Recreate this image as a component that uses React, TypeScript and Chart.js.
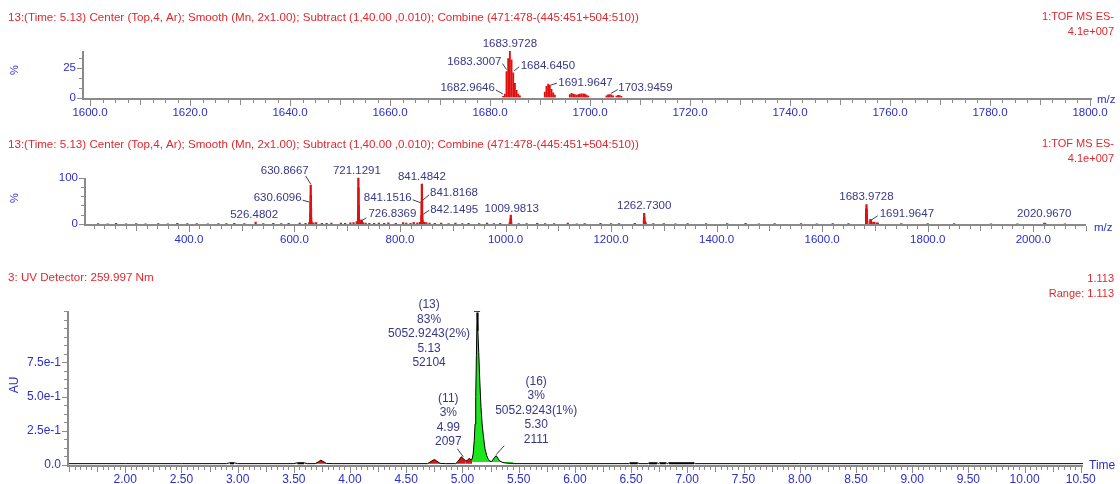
import React, { useEffect, useRef } from "react";
import { Chart, registerables } from "chart.js";

Chart.register(...registerables);

const FONT = '"Liberation Sans", Arial, Helvetica, sans-serif';
const RED_TEXT = "#e0282d";
const TICK_BLUE = "#2a2fc8";
const LABEL_BLUE = "#38388a";
const AXIS_GRAY = "#8a8a8a";
const BAR_RED = "#e01010";

// ---------- texts ----------
const msHeader =
  "13:(Time: 5.13) Center (Top,4, Ar); Smooth (Mn, 2x1.00); Subtract (1,40.00 ,0.010); Combine (471:478-(445:451+504:510))";
const msRight = ["1:TOF MS ES-", "4.1e+007"];
const uvHeader = "3: UV Detector: 259.997 Nm";
const uvRight = ["1.113", "Range: 1.113"];

// ---------- panel 1: zoomed spectrum ----------
const zoomMz = [
  1682.629, 1682.9646, 1683.3007, 1683.6368, 1683.9728, 1684.3089, 1684.645, 1684.981, 1685.317, 1685.653, 1685.99,
  1690.96, 1691.2925, 1691.6286, 1691.9647, 1692.3008, 1692.637, 1692.973,
  1695.97, 1696.3, 1696.64, 1696.97, 1697.31, 1697.65, 1697.98, 1698.32, 1698.66, 1698.99, 1699.33, 1699.66,
  1703.28, 1703.61, 1703.9459, 1704.28, 1704.62, 1705.29, 1705.62, 1705.95, 1706.29,
];
const zoomIntensity = [
  1.0, 3.0, 22, 33, 39.5, 32, 21, 12, 6, 3, 1.5,
  4.5, 9.5, 11.5, 10.5, 7.0, 4.0, 2.0,
  2.5, 3.5, 3.0, 2.5, 2.0, 2.5, 3.0, 3.2, 3.2, 2.8, 2.0, 1.2,
  1.5, 2.2, 2.5, 2.2, 1.5, 1.2, 1.8, 1.6, 1.0,
];
const zoomXTicks = [1600, 1620, 1640, 1660, 1680, 1700, 1720, 1740, 1760, 1780, 1800];
const zoomYTicks = [0, 25];
const zoomYText = ["0", "25"];
const zoomLabelMz = [1683.9728, 1683.3007, 1684.645, 1682.9646, 1691.9647, 1703.9459];

// ---------- panel 2: full spectrum ----------
const fullMz = [
  228, 246, 262, 281, 300, 318, 342, 360, 378, 397,
  415, 436, 456, 471, 486, 505, 526.4802, 541, 560, 575,
  589, 610, 621, 628.1, 629.8, 630.3525, 630.6096, 630.8667, 631.1238, 631.3809,
  631.638, 632.2, 636, 641, 652, 661, 670, 688, 696, 706,
  712, 718, 720.7943, 721.1291, 721.4639, 721.7987, 722.1335, 724, 726.502, 726.8369,
  727.1718, 728, 730, 735, 742, 751, 760, 770, 778, 792,
  806, 812, 820, 826, 833, 838, 840.819, 841.1516, 841.4842, 841.8168,
  842.1495, 842.482, 843.5, 846, 850, 856, 866, 878, 892, 905,
  918, 930, 950, 965, 978, 990, 1008, 1009.6481, 1009.9813, 1010.3145,
  1010.6477, 1025, 1040, 1060, 1075, 1092, 1118, 1135, 1150, 1180,
  1200, 1215, 1245, 1262.23, 1262.73, 1263.23, 1263.73, 1265.5, 1280, 1300,
  1322, 1345, 1380, 1420, 1455, 1480, 1510, 1560, 1590, 1620,
  1650, 1683.3007, 1683.6368, 1683.9728, 1684.3089, 1684.645, 1684.981, 1685.5, 1691.6286, 1691.9647,
  1692.3, 1693, 1697, 1699, 1704, 1705.5, 1750, 1800, 1850, 1920,
  1970, 2020.967, 2022.5, 2060,
];
const fullIntensity = [
  0.8, 0.6, 1.2, 0.6, 0.9, 0.5, 1.0, 0.6, 1.3, 0.7,
  1.0, 0.6, 1.1, 0.7, 1.2, 0.8, 4.0, 0.9, 1.6, 0.8,
  1.2, 1.8, 1.4, 3.0, 7.0, 22, 45, 84, 62, 35,
  14, 5, 2.5, 3.0, 1.6, 1.2, 2.2, 2.0, 1.6, 2.4,
  3.0, 5.0, 28, 100, 78, 40, 14, 4.0, 7.0, 9.0,
  6.5, 4.0, 3.0, 2.0, 1.5, 1.2, 2.0, 1.4, 2.4, 1.6,
  3.2, 2.2, 1.6, 3.4, 2.4, 3.5, 18, 48, 86, 52,
  21, 9, 4.5, 3.8, 3.0, 2.0, 1.5, 2.2, 1.0, 1.8,
  0.8, 1.5, 1.0, 2.0, 0.8, 1.2, 3.0, 12, 19, 10,
  4.0, 1.0, 0.8, 1.5, 0.7, 1.0, 1.8, 0.6, 1.0, 1.4,
  0.7, 1.0, 1.2, 9.0, 23, 14, 6.0, 3.0, 0.8, 1.0,
  0.6, 1.0, 0.8, 1.0, 1.4, 0.6, 1.0, 0.8, 0.6, 1.0,
  0.7, 24, 33, 42, 32, 21, 11, 5.0, 10, 9.0,
  6.0, 3.0, 4.0, 3.5, 2.4, 1.8, 0.8, 0.7, 0.8, 0.6,
  0.6, 2.0, 1.4, 0.6,
];
const fullXTicks = [400, 600, 800, 1000, 1200, 1400, 1600, 1800, 2000];
const fullYTicks = [0, 100];
const fullYText = ["0", "100"];
const fullLabelMz = [
  630.8667, 630.6096, 526.4802, 721.1291, 726.8369, 841.4842, 841.1516, 841.8168, 842.1495, 1009.9813,
  1262.73, 1683.9728, 1691.9647, 2020.967,
];

// ---------- panel 3: UV chromatogram ----------
const uvTime = [
  1.5, 2.0, 2.5, 2.9, 2.93, 2.97, 3.0, 3.5, 3.53, 3.59,
  3.62, 3.69, 3.72, 3.74, 3.76, 3.79, 3.85, 4.5, 4.69, 4.72,
  4.75, 4.77, 4.8, 4.85, 4.94, 4.96, 4.99, 5.01, 5.03, 5.045,
  5.06, 5.075, 5.085, 5.095, 5.105, 5.112, 5.118, 5.124, 5.13, 5.137,
  5.145, 5.155, 5.165, 5.175, 5.185, 5.2, 5.215, 5.23, 5.245, 5.26,
  5.28, 5.3, 5.315, 5.33, 5.36, 5.4, 5.45, 6.0, 6.48, 6.49,
  6.56, 6.57, 6.65, 6.66, 6.73, 6.745, 6.755, 6.81, 6.825, 6.835,
  7.06, 7.07, 8.0, 10.52,
];
const uvAbs = [
  0.01, 0.01, 0.01, 0.01, 0.016, 0.016, 0.01, 0.01, 0.016, 0.016,
  0.01, 0.01, 0.024, 0.035, 0.026, 0.011, 0.01, 0.01, 0.01, 0.026,
  0.04, 0.03, 0.012, 0.01, 0.01, 0.026, 0.06, 0.045, 0.028, 0.036,
  0.048, 0.04, 0.04, 0.08, 0.18, 0.3, 0.5, 0.8, 1.113, 0.98,
  0.82, 0.6, 0.42, 0.3, 0.22, 0.12, 0.07, 0.04, 0.028, 0.025,
  0.05, 0.068, 0.05, 0.03, 0.018, 0.013, 0.01, 0.01, 0.01, 0.016,
  0.016, 0.01, 0.01, 0.016, 0.016, 0.01, 0.016, 0.016, 0.01, 0.016,
  0.016, 0.01, 0.01, 0.01,
];
const uvXTicks = [2.0, 2.5, 3.0, 3.5, 4.0, 4.5, 5.0, 5.5, 6.0, 6.5, 7.0, 7.5, 8.0, 8.5, 9.0, 9.5, 10.0, 10.5];
const uvYTicks = [0, 0.25, 0.5, 0.75];
const uvYText = ["0.0", "2.5e-1", "5.0e-1", "7.5e-1"];
const uvRedStart = [3.69, 4.69, 4.94, 5.03];
const uvRedEnd = [3.79, 4.8, 5.03, 5.085];
const uvGreenStart = [5.085, 5.245];
const uvGreenEnd = [5.245, 5.45];
const uvBlackStart = [2.93, 3.53, 6.49, 6.66, 6.755, 6.835];
const uvBlackEnd = [2.97, 3.59, 6.56, 6.73, 6.81, 7.06];
const uvPeakNames = ["(13)", "(11)", "(16)"];
const uvPeakTimes = [5.13, 4.99, 5.3];
const uvPeakPercent = ["83%", "3%", "3%"];
const uvPeakMass = ["5052.9243(2%)", "", "5052.9243(1%)"];
const uvPeakArea = ["52104", "2097", "2111"];

// ---------- label layout (styles / offsets only) ----------
type Lay = { dx: number; dy: number; align: CanvasTextAlign; line?: number[]; mark?: number[]; anchorLast?: boolean };
const zoomLabelLayout: Lay[] = [
  { dx: 0, dy: -7.5, align: "center" },
  { dx: -5, dy: -10, align: "right", line: [-4, -8, 0, -2] },
  { dx: 7.5, dy: -6.5, align: "left", line: [1, -2, 6, -6] },
  { dx: -10, dy: -6, align: "right", line: [-9, -4, -2, 0] },
  { dx: 8.5, dy: -2, align: "left", line: [1, 0, 7, -2] },
  { dx: 8.5, dy: -6.5, align: "left", line: [1, -1, 8, -5] },
];
const fullLabelLayout: Lay[] = [
  { dx: -2, dy: -14, align: "right", line: [-5, -9, 0, -1] },
  { dx: -9, dy: -5.5, align: "right", line: [-8, -3, -1, -1] },
  { dx: -1.5, dy: -7, align: "center" },
  { dx: -1.5, dy: -7, align: "center" },
  { dx: 7, dy: -6.5, align: "left", line: [0, 1, 5, -2] },
  { dx: 0, dy: -7.5, align: "center" },
  { dx: -10, dy: -4, align: "right", line: [-9, -2, -1, 1] },
  { dx: 8, dy: -6.6, align: "left", line: [1, 0, 7, -5] },
  { dx: 8, dy: -4.3, align: "left", line: [1, 0, 7, -4] },
  { dx: 1, dy: -6, align: "center" },
  { dx: 0, dy: -8, align: "center" },
  { dx: 0, dy: -7.5, align: "center" },
  { dx: 9, dy: -5.8, align: "left", line: [1, 0, 7, -4] },
  { dx: 0, dy: -9, align: "center" },
];
const uvLabelLayout: Lay[] = [
  { dx: -48, dy: -7.6, align: "center", mark: [-3, -2, 3, -2] },
  { dx: -13, dy: -15, align: "center", anchorLast: true, line: [-4, -8, 2, 0] },
  { dx: 40, dy: -16.4, align: "center", anchorLast: true, line: [0, -1, 8, -10] },
];

type Ann = Lay & { x: number; y: number; lines: string[] };

type PanelCfg = {
  top: number;
  height: number;
  header: string;
  headerY: number;
  right: string[];
  rightY: number[];
  xMinor: number;
  xMid: number;
  xTicks: number[];
  xDigits: number;
  xLabelY: number;
  yMinor: number;
  yTicks: number[];
  yText: string[];
  tickFont: number;
  annFont: number;
  lineGap: number;
  unit: string;
  unitX: number;
  unitY: number;
  unitFont: number;
  axisTitle: string;
  axisTitleX: number;
  axisTitleY: number;
  anns: Ann[];
};

function near(v: number, list: number[], tol: number) {
  return list.some((t) => Math.abs(t - v) < tol);
}

function makePanelPlugin(cfg: PanelCfg) {
  return {
    id: "panelDecor",
    afterDraw(chart: any) {
      const ctx: CanvasRenderingContext2D = chart.ctx;
      const xs = chart.scales.x;
      const ys = chart.scales.y;
      const a = chart.chartArea;
      const T = cfg.top;
      ctx.save();
      ctx.textBaseline = "middle";

      // headers
      ctx.fillStyle = RED_TEXT;
      ctx.font = `11.6px ${FONT}`;
      ctx.textAlign = "left";
      ctx.fillText(cfg.header, 8, cfg.headerY - T);
      ctx.font = `11px ${FONT}`;
      ctx.textAlign = "right";
      cfg.right.forEach((s, i) => ctx.fillText(s, 1114, cfg.rightY[i] - T));

      // axis lines
      const left = Math.round(a.left);
      const bottom = Math.round(a.bottom);
      const top = Math.round(a.top);
      ctx.fillStyle = AXIS_GRAY;
      ctx.fillRect(left - 2, top, 2, bottom + 2 - top);
      ctx.fillRect(left - 2, bottom, Math.round(a.right) - left + 2, 2);

      // x ticks
      ctx.strokeStyle = AXIS_GRAY;
      ctx.lineWidth = 1;
      const xEps = cfg.xMinor * 1e-3;
      for (let k = Math.ceil((xs.min - xEps) / cfg.xMinor); k * cfg.xMinor <= xs.max + xEps; k++) {
        const v = k * cfg.xMinor;
        const px = Math.round(xs.getPixelForValue(v)) + 0.5;
        const major = near(v, cfg.xTicks, xEps);
        const mid = Math.abs(v / cfg.xMid - Math.round(v / cfg.xMid)) < 1e-3;
        const len = major ? 6 : mid ? 5 : 3;
        ctx.beginPath();
        ctx.moveTo(px, bottom + 2);
        ctx.lineTo(px, bottom + 2 + len);
        ctx.stroke();
      }
      // y ticks
      const yEps = cfg.yMinor * 1e-3;
      for (let k = 0; k * cfg.yMinor <= ys.max + yEps; k++) {
        const v = k * cfg.yMinor;
        const py = Math.round(ys.getPixelForValue(v)) + 0.5;
        const major = near(v, cfg.yTicks, yEps);
        const len = major ? 5 : 3;
        ctx.beginPath();
        ctx.moveTo(left - 2, py);
        ctx.lineTo(left - 2 - len, py);
        ctx.stroke();
      }

      // tick labels
      ctx.fillStyle = TICK_BLUE;
      ctx.font = `${cfg.tickFont}px ${FONT}`;
      ctx.textAlign = "center";
      cfg.xTicks.forEach((v) => ctx.fillText(v.toFixed(cfg.xDigits), xs.getPixelForValue(v), cfg.xLabelY - T));
      ctx.textAlign = "right";
      cfg.yTicks.forEach((v, i) => ctx.fillText(cfg.yText[i], left - 8, ys.getPixelForValue(v)));

      // axis title
      ctx.textAlign = "left";
      ctx.fillText(cfg.axisTitle, cfg.axisTitleX, cfg.axisTitleY - T);

      // unit (rotated)
      ctx.save();
      ctx.font = `${cfg.unitFont}px ${FONT}`;
      ctx.translate(cfg.unitX, cfg.unitY - T);
      ctx.rotate(-Math.PI / 2);
      ctx.textAlign = "center";
      ctx.fillText(cfg.unit, 0, 0);
      ctx.restore();

      // annotations
      ctx.font = `${cfg.annFont}px ${FONT}`;
      for (const an of cfg.anns) {
        const px = xs.getPixelForValue(an.x);
        const py = ys.getPixelForValue(an.y);
        ctx.strokeStyle = "#3c3c5a";
        ctx.lineWidth = 1;
        if (an.line) {
          ctx.beginPath();
          ctx.moveTo(px + an.line[0], py + an.line[1]);
          ctx.lineTo(px + an.line[2], py + an.line[3]);
          ctx.stroke();
        }
        if (an.mark) {
          ctx.beginPath();
          ctx.moveTo(px + an.mark[0], Math.round(py + an.mark[1]) + 0.5);
          ctx.lineTo(px + an.mark[2], Math.round(py + an.mark[3]) + 0.5);
          ctx.stroke();
        }
        ctx.fillStyle = LABEL_BLUE;
        ctx.textAlign = an.align;
        const lines = an.lines.filter((s) => s !== "");
        const n = lines.length;
        const y0 = an.anchorLast ? py + an.dy - (n - 1) * cfg.lineGap : py + an.dy;
        lines.forEach((s, i) => ctx.fillText(s, px + an.dx, y0 + i * cfg.lineGap));
      }
      ctx.restore();
    },
  };
}

function baseOptions(pad: { left: number; right: number; top: number; bottom: number }, xMin: number, xMax: number, yMax: number) {
  return {
    responsive: false,
    maintainAspectRatio: false,
    animation: false,
    events: [],
    layout: { padding: pad },
    scales: {
      x: { type: "linear", min: xMin, max: xMax, display: false, offset: false },
      y: { type: "linear", min: 0, max: yMax, display: false },
    },
    plugins: { legend: { display: false }, tooltip: { enabled: false } },
  };
}

// ---------- configs ----------
function zoomSetup() {
  const cfg: PanelCfg = {
    top: 0,
    height: 125,
    header: msHeader,
    headerY: 18,
    right: msRight,
    rightY: [17, 32],
    xMinor: 2.5,
    xMid: 10,
    xTicks: zoomXTicks,
    xDigits: 1,
    xLabelY: 113,
    yMinor: 25 / 3,
    yTicks: zoomYTicks,
    yText: zoomYText,
    tickFont: 11.5,
    annFont: 11.5,
    lineGap: 14,
    unit: "%",
    unitX: 15,
    unitY: 70,
    unitFont: 11,
    axisTitle: "m/z",
    axisTitleX: 1097,
    axisTitleY: 100,
    anns: zoomLabelMz.map((m, i) => ({
      ...zoomLabelLayout[i],
      x: m,
      y: zoomIntensity[zoomMz.indexOf(m)],
      lines: [m.toFixed(4)],
    })),
  };
  const config = {
    type: "bar",
    data: {
      datasets: [
        {
          data: zoomMz.map((m, i) => ({ x: m, y: zoomIntensity[i] })),
          backgroundColor: BAR_RED,
          barThickness: 1.2,
          borderWidth: 0,
          grouped: false,
        },
      ],
    },
    options: baseOptions({ left: 84, right: 28, top: 51, bottom: 27.5 }, 1598.8, 1800.4, 39.5),
  };
  return { cfg, config };
}

function fullSetup() {
  const cfg: PanelCfg = {
    top: 125,
    height: 125,
    header: msHeader,
    headerY: 145,
    right: msRight,
    rightY: [144, 159],
    xMinor: 20,
    xMid: 100,
    xTicks: fullXTicks,
    xDigits: 1,
    xLabelY: 240,
    yMinor: 20,
    yTicks: fullYTicks,
    yText: fullYText,
    tickFont: 11.5,
    annFont: 11.5,
    lineGap: 14,
    unit: "%",
    unitX: 15,
    unitY: 198,
    unitFont: 11,
    axisTitle: "m/z",
    axisTitleX: 1094,
    axisTitleY: 228,
    anns: fullLabelMz.map((m, i) => ({
      ...fullLabelLayout[i],
      x: m,
      y: fullIntensity[fullMz.indexOf(m)],
      lines: [m.toFixed(4)],
    })),
  };
  const config = {
    type: "bar",
    data: {
      datasets: [
        {
          data: fullMz.map((m, i) => ({ x: m, y: fullIntensity[i] })),
          backgroundColor: BAR_RED,
          barThickness: 1.6,
          borderWidth: 0,
          grouped: false,
        },
      ],
    },
    options: baseOptions({ left: 86, right: 34, top: 52.7, bottom: 26 }, 205, 2100, 100),
  };
  return { cfg, config };
}

function uvSetup() {
  const pts = uvTime.map((t, i) => ({ x: t, y: uvAbs[i] }));
  const slice = (s: number, e: number) => pts.filter((p) => p.x >= s - 1e-9 && p.x <= e + 1e-9);
  const fillSet = (s: number, e: number, color: string, base: number) => ({
    data: slice(s, e),
    borderColor: "rgba(0,0,0,0)",
    borderWidth: 1,
    backgroundColor: color,
    fill: { value: base },
    pointRadius: 0,
    tension: 0,
  });
  const cfg: PanelCfg = {
    top: 250,
    height: 234,
    header: uvHeader,
    headerY: 278,
    right: uvRight,
    rightY: [279, 294],
    xMinor: 0.05,
    xMid: 0.25,
    xTicks: uvXTicks,
    xDigits: 2,
    xLabelY: 480,
    yMinor: 0.0625,
    yTicks: uvYTicks,
    yText: uvYText,
    tickFont: 12,
    annFont: 12,
    lineGap: 14.4,
    unit: "AU",
    unitX: 15,
    unitY: 385,
    unitFont: 12,
    axisTitle: "Time",
    axisTitleX: 1089,
    axisTitleY: 466,
    anns: uvPeakNames.map((nm, i) => ({
      ...uvLabelLayout[i],
      x: uvPeakTimes[i],
      y: uvAbs[uvTime.indexOf(uvPeakTimes[i])],
      lines: [nm, uvPeakPercent[i], uvPeakMass[i], uvPeakTimes[i].toFixed(2), uvPeakArea[i]],
    })),
  };
  const config = {
    type: "line",
    data: {
      datasets: [
        { data: pts, borderColor: "#000000", borderWidth: 1, pointRadius: 0, fill: false, tension: 0 },
        ...uvGreenStart.map((s, i) => fillSet(s, uvGreenEnd[i], "#1ee61e", 0.022)),
        ...uvRedStart.map((s, i) => fillSet(s, uvRedEnd[i], "#d81414", 0.01)),
        ...uvBlackStart.map((s, i) => fillSet(s, uvBlackEnd[i], "#000000", 0.005)),
      ],
    },
    options: baseOptions({ left: 69, right: 37, top: 61, bottom: 19 }, 1.5, 10.52, 1.125),
  };
  return { cfg, config };
}

function Panel({ setup }: { setup: () => { cfg: PanelCfg; config: any } }) {
  const ref = useRef<HTMLCanvasElement>(null);
  const { cfg } = setup();
  useEffect(() => {
    if (!ref.current) return;
    const s = setup();
    const chart = new Chart(ref.current, { ...s.config, plugins: [makePanelPlugin(s.cfg)] });
    return () => chart.destroy();
  }, []);
  return (
    <canvas
      ref={ref}
      width={1120}
      height={cfg.height}
      style={{ position: "absolute", left: 0, top: cfg.top, width: 1120, height: cfg.height, display: "block" }}
    />
  );
}

export default function App() {
  return (
    <div style={{ position: "absolute", left: 0, top: 0, width: 1120, height: 484, background: "#ffffff", overflow: "hidden" }}>
      <Panel setup={zoomSetup} />
      <Panel setup={fullSetup} />
      <Panel setup={uvSetup} />
    </div>
  );
}
